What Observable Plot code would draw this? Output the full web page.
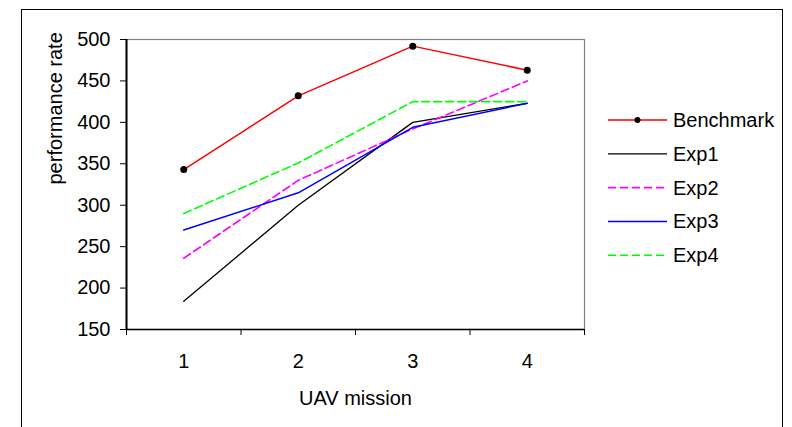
<!DOCTYPE html>
<html>
<head>
<meta charset="utf-8">
<script src="https://cdn.jsdelivr.net/npm/d3@7"></script>
<script src="https://cdn.jsdelivr.net/npm/@observablehq/plot@0.6"></script>
<style>
  body { margin: 0; background: #fff; font-family: "Liberation Sans", Arial, sans-serif; }
  #wrap { position: relative; width: 792px; height: 427px; overflow: hidden; background: #fff; }
  #border { position: absolute; left: 21px; top: 9px; width: 762px; height: 440px; border: 1px solid #000; box-sizing: border-box; pointer-events: none; }
  #chart { position: absolute; left: 0; top: 0; }
  #chart svg, #chart svg g, #chart svg text { font-size: 20px !important; font-family: "Liberation Sans", Arial, sans-serif !important; }
  #chart svg text { fill: #000; }
  #legend { position: absolute; left: 0; top: 0; }
</style>
</head>
<body>
<div id="wrap">
  <div id="border"></div>
  <div id="chart"></div>
  <svg id="legend" width="792" height="427"></svg>
</div>
<script>
// Mission numbers and the performance rate of each run
const missions = [1, 2, 3, 4];
const seriesNames = ["Benchmark", "Exp1", "Exp2", "Exp3", "Exp4"];
const benchmark = [343, 432, 492, 463];
const exp1 = [184, 300, 400, 423];
const exp2 = [236, 330, 392, 450];
const exp3 = [270, 315, 394, 423];
const exp4 = [290, 351, 425, 425];
const yTicks = [150, 200, 250, 300, 350, 400, 450, 500];
const xLabel = "UAV mission";
const yLabel = "performance rate";

// Line style per series
const colors = ["#ff0000", "#000000", "#ff00ff", "#0000ff", "#00ff00"];
const dashes = [null, null, "8,4", null, "8,4"];
const widths = [1.5, 1.3, 1.6, 1.5, 1.6];

const values = [benchmark, exp1, exp2, exp3, exp4];
const rows = seriesNames.map((name, i) =>
  missions.map((m, j) => ({series: name, mission: m, rate: values[i][j]}))
);

// Category boundaries for the tick marks between missions
const bounds = [0.5, 1.5, 2.5, 3.5, 4.5];

const fontSize = 20;
const font = "'Liberation Sans', Arial, sans-serif";

const lineMarks = rows.map((data, i) =>
  Plot.line(data, {
    x: "mission",
    y: "rate",
    stroke: colors[i],
    strokeWidth: widths[i],
    strokeDasharray: dashes[i] ?? undefined
  })
);

const chart = Plot.plot({
  width: 792,
  height: 427,
  marginLeft: 126,
  marginRight: 208,
  marginTop: 39,
  marginBottom: 98,
  style: { fontFamily: font, fontSize: fontSize + "px", background: "transparent", color: "#000" },
  x: { type: "linear", domain: [0.5, 4.5] },
  y: { domain: [150, 500] },
  marks: [
    Plot.frame({ stroke: "#808080", strokeWidth: 1.2 }),
    Plot.axisY({ ticks: yTicks, tickSize: 6, tickPadding: 10, label: null, stroke: "#000" }),
    Plot.axisX({ ticks: bounds, tickSize: 6, tickFormat: () => "", label: null }),
    Plot.axisX({ ticks: missions, tickSize: 0, tickPadding: 24, tickFormat: d => String(d), label: null }),
    Plot.ruleX([0.5], { stroke: "#000", strokeWidth: 2 }),
    Plot.ruleY([150], { stroke: "#000", strokeWidth: 1.5 }),
    ...lineMarks,
    Plot.dot(rows[0], { x: "mission", y: "rate", r: 3.5, fill: "#000", stroke: "none" }),
    Plot.text([xLabel], { frameAnchor: "bottom", dy: 69, lineAnchor: "middle", fontSize: fontSize }),
    Plot.text([yLabel], { frameAnchor: "left", dx: -71, rotate: -90, lineAnchor: "middle", fontSize: fontSize })
  ]
});
document.getElementById("chart").appendChild(chart);

// Legend: one sample line per series with its name
const legend = d3.select("#legend");
const legendTop = 120, legendStep = 33.8, lx0 = 608, lx1 = 667, tx = 673;
seriesNames.forEach((name, i) => {
  const y = legendTop + i * legendStep;
  const g = legend.append("g");
  g.append("line")
    .attr("x1", lx0).attr("x2", lx1).attr("y1", y).attr("y2", y)
    .attr("stroke", colors[i]).attr("stroke-width", widths[i])
    .attr("stroke-dasharray", dashes[i]);
  if (i === 0) {
    g.append("circle").attr("cx", (lx0 + lx1) / 2).attr("cy", y).attr("r", 3).attr("fill", "#000");
  }
  g.append("text")
    .attr("x", tx).attr("y", y).attr("dy", "0.35em")
    .attr("font-family", font)
    .attr("font-size", fontSize)
    .text(name);
});
</script>
</body>
</html>
